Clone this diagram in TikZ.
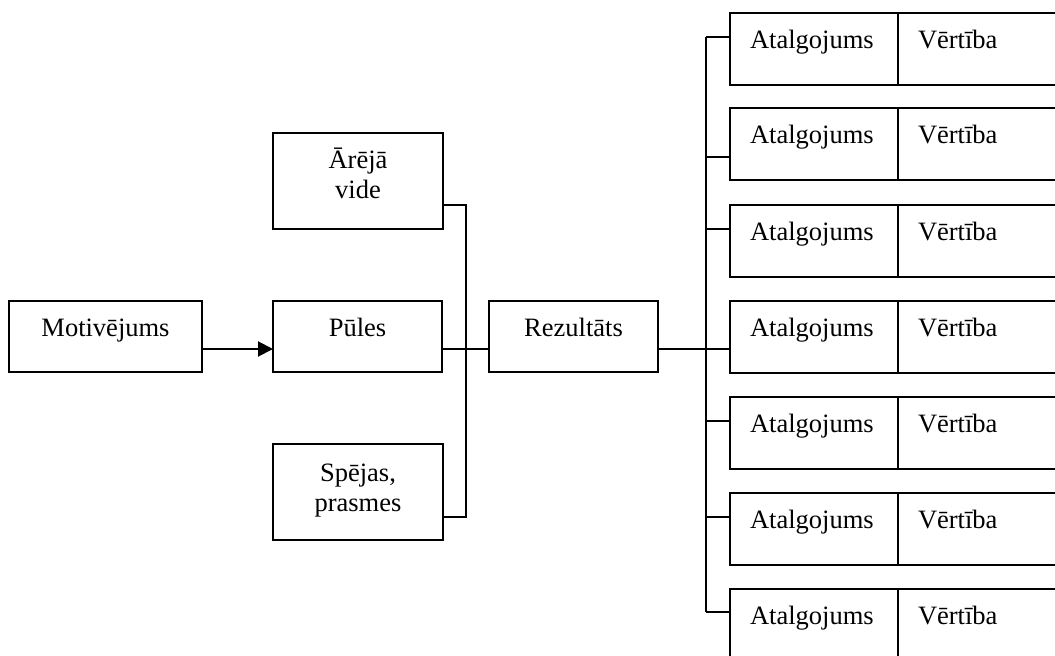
\documentclass[tikz,border=0pt]{standalone}
\usepackage{fontspec}
\setmainfont{Liberation Serif}
\usetikzlibrary{arrows.meta}

\tikzset{
  box/.style={draw, line width=2pt, inner sep=0pt, outer sep=0pt, anchor=north west,
    font=\fontsize{26.5}{30}\selectfont, text height=35pt, text depth=36pt},
  cbox/.style={box, align=center, text width=#1},
  lbox/.style={box, align=left, inner xsep=20pt, text width=#1, text depth=37pt},
  wire/.style={line width=2pt},
  arrowwire/.style={wire, -{Triangle[length=15pt,width=15pt]}}
}

\begin{document}
\begin{tikzpicture}[x=1pt, y=-1pt]
  \useasboundingbox (0,0) rectangle (1055,656);
  \clip (0,0) rectangle (1055,656);

  % left chain
  \node[cbox=193pt] (mot) at (9,301) {Motivējums};
  \node[cbox=169pt] (pul) at (273,301) {Pūles};
  \node[cbox=169pt] (rez) at (489,301) {Rezultāts};
  \node[cbox=170pt, text depth=61pt] (are) at (273,133) {Ārējā\\vide};
  \node[cbox=170pt, text height=37pt, text depth=59pt] (spe) at (273,444) {Spējas,\\prasmes};

  \coordinate (busL) at (466,0);
  \coordinate (busR) at (706,0);
  \coordinate (areOut) at ([yshift=24]are.south east);
  \coordinate (speOut) at ([yshift=23]spe.south east);

  \draw[arrowwire] ([yshift=23]mot.south east) -- ([yshift=23]pul.south west);
  \draw[wire] ([yshift=23]pul.south east) -- ([yshift=23]rez.south west);
  \draw[wire] (areOut) -| (busL |- speOut) -- (speOut);

  % right column of rewards
  \foreach \t/\o [count=\i] in {13/24,108/49,205/24,301/48,397/24,493/24,589/23}{
    \node[lbox=128pt] (a\i) at (730,\t) {Atalgojums};
    \node[lbox=132pt] (v\i) at (898,\t) {Vērtība};
    \coordinate (b\i) at ([yshift=-\o]a\i.north west);
    \draw[wire] (busR |- b\i) -- (b\i);
  }
  \draw[wire] (busR |- b1) -- (busR |- b7);
  \draw[wire] ([yshift=23]rez.south east) -- (busR |- b4);
\end{tikzpicture}
\end{document}
